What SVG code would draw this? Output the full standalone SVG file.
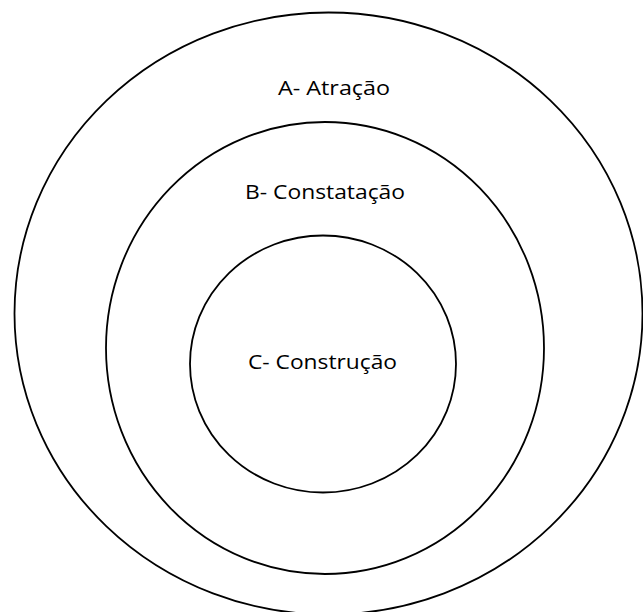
<svg xmlns="http://www.w3.org/2000/svg" width="643" height="612" viewBox="0 0 643 612">
<style>
.ring{fill:none;stroke:#000;stroke-width:1.8}
.lbl{font-family:"Open Sans","Liberation Sans",sans-serif;font-size:20px;fill:#000;text-anchor:middle}
</style>
<rect width="643" height="612" fill="#fff"/>
<g id="ringA"><ellipse class="ring" cx="328.5" cy="313.5" rx="314" ry="301"/><text class="lbl" x="334" y="95" textLength="112" lengthAdjust="spacingAndGlyphs">A- Atração</text></g>
<g id="ringB"><ellipse class="ring" cx="325" cy="348" rx="219" ry="226"/><text class="lbl" x="325" y="199" textLength="160" lengthAdjust="spacingAndGlyphs">B- Constatação</text></g>
<g id="ringC"><ellipse class="ring" cx="323" cy="364" rx="133" ry="128.5"/><text class="lbl" x="322.5" y="369" textLength="149" lengthAdjust="spacingAndGlyphs">C- Construção</text></g>
<g id="connectors"></g>
</svg>
